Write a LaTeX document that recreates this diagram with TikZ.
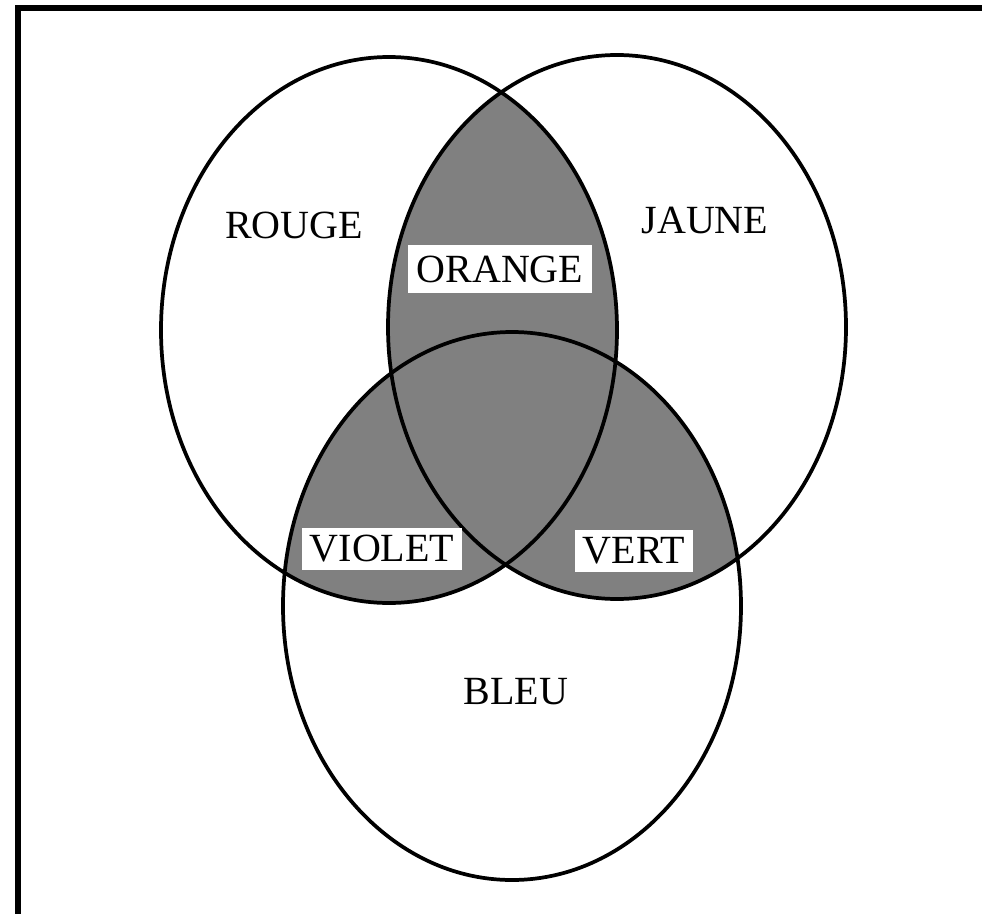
\documentclass[tikz,border=0pt]{standalone}
\usepackage{fontspec}
\setmainfont{Liberation Serif}
\begin{document}
\begin{tikzpicture}[x=0.75pt,y=-0.75pt]
\useasboundingbox (0,0) rectangle (982,914);
\tikzset{
  setline/.style={line width=2.8pt},
  lab/.style={font=\fontsize{30}{36}\selectfont, inner sep=0pt},
  boxlab/.style={lab, fill=white},
  shadefill/.style={fill=black!50},
  redE/.style={x radius=171pt, y radius=204.75pt},
  yelE/.style={x radius=171.75pt, y radius=204pt},
  bluE/.style={x radius=171.75pt, y radius=205.5pt}
}
\coordinate (R) at (389,330);
\coordinate (Y) at (617,327);
\coordinate (B) at (512,606);
% frame (left and top only)
\draw[line width=4.5pt] (18,914) -- (18,8) -- (982,8);
% shaded intersections
\begin{scope}
  \clip (R) ellipse [redE];
  \fill[shadefill] (Y) ellipse [yelE];
  \fill[shadefill] (B) ellipse [bluE];
\end{scope}
\begin{scope}
  \clip (Y) ellipse [yelE];
  \fill[shadefill] (B) ellipse [bluE];
\end{scope}
% outlines
\draw[setline] (R) ellipse [redE];
\draw[setline] (Y) ellipse [yelE];
\draw[setline] (B) ellipse [bluE];
% labels
\node[lab] (rouge) at (294,225) {ROUGE};
\node[lab] (jaune) at (705,220) {JAUNE};
\node[lab] (bleu) at (516,692) {BLEU};
\node[boxlab, minimum width=138pt, minimum height=36pt] (orange) at (500,269) {ORANGE};
\node[boxlab, minimum width=120pt, minimum height=31.5pt] (violet) at (382,549) {VIOLET};
\node[boxlab, minimum width=88.5pt, minimum height=31.5pt] (vert) at (634,551) {VERT};
\end{tikzpicture}
\end{document}
